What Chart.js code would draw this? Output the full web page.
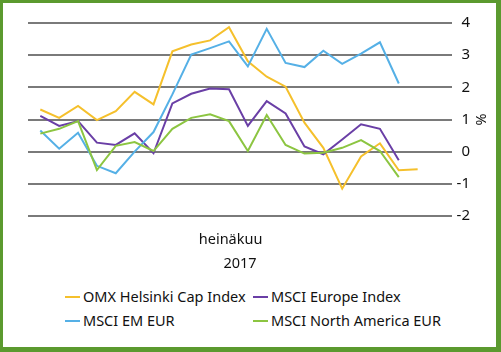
<!DOCTYPE html>
<html>
<head>
<meta charset="utf-8">
<script src="https://cdn.jsdelivr.net/npm/chart.js@4.4.1/dist/chart.umd.min.js"></script>
<style>
    body { margin: 0; background: #fff; font-family: "Noto Sans", sans-serif; }
    #wrap { position: absolute; left: 0; top: 0; width: 501px; height: 280px; }
    #frame {
        position: absolute; left: 0; top: 0; width: 501px; height: 352px;
        box-sizing: border-box; border: 3px solid #5b9a2f;
        border-right-width: 5px; border-bottom-width: 5px;
        pointer-events: none;
    }
    .legend-item { position: absolute; font-size: 14.5px; color: #111; line-height: 20px; white-space: nowrap; }
    .legend-item span.mark { display: inline-block; width: 15px; height: 2px; margin-right: 3px; vertical-align: middle; position: relative; top: -1px; }
</style>
</head>
<body>
<div id="wrap"><canvas id="chart"></canvas></div>
<div id="legend"></div>
<div id="frame"></div>
<script>
// Trading days, July 2017
const days = [3, 4, 5, 6, 7, 10, 11, 12, 13, 14, 17, 18, 19, 20, 21, 24, 25, 26, 27, 28, 31];

// Cumulative change, %
const omxHelsinki = [1.31, 1.05, 1.42, 0.98, 1.26, 1.86, 1.47, 3.12, 3.33, 3.46, 3.87, 2.81, 2.33, 2.02, 0.90, 0.12, -1.15, -0.15, 0.26, -0.58, -0.55];
const msciEurope = [1.11, 0.80, 0.95, 0.28, 0.21, 0.57, -0.05, 1.50, 1.80, 1.96, 1.94, 0.80, 1.57, 1.19, 0.16, -0.08, 0.38, 0.85, 0.71, -0.27, null];
const msciEm = [0.66, 0.09, 0.59, -0.44, -0.67, 0.0, 0.61, 1.78, 3.02, 3.22, 3.43, 2.65, 3.82, 2.76, 2.63, 3.14, 2.73, 3.05, 3.40, 2.12, null];
const msciNorthAmerica = [0.56, 0.71, 0.95, -0.57, 0.18, 0.30, 0.02, 0.71, 1.05, 1.16, 0.95, 0.02, 1.14, 0.21, -0.06, -0.03, 0.12, 0.36, 0.02, -0.79, null];

const yTicks = [4, 3, 2, 1, 0, -1, -2];

const seriesNames = ['OMX Helsinki Cap Index', 'MSCI Europe Index', 'MSCI EM EUR', 'MSCI North America EUR'];
const seriesColors = ['#f5c02c', '#6a3fa6', '#55b0e6', '#8cc541'];
const seriesValues = [omxHelsinki, msciEurope, msciEm, msciNorthAmerica];

function toPoints(values) {
    return values.map((v, i) => ({ x: i, y: v }));
}

const datasets = seriesValues.map((values, i) => ({
    label: seriesNames[i],
    data: toPoints(values),
    borderColor: seriesColors[i],
    backgroundColor: seriesColors[i],
    borderWidth: 2,
    pointRadius: 0,
    tension: 0,
    order: 3 - i
}));

const ctx = document.getElementById('chart').getContext('2d');
new Chart(ctx, {
    type: 'line',
    data: { datasets: datasets },
    options: {
        responsive: true,
        maintainAspectRatio: false,
        animation: false,
        layout: { padding: { left: 28, top: 23, right: 31, bottom: 0 } },
        font: { family: '"Noto Sans", sans-serif', size: 14 },
        scales: {
            x: {
                type: 'linear',
                min: -0.652,
                max: 21.82,
                grid: { display: false, drawTicks: false },
                border: { display: false },
                ticks: { display: false },
                title: {
                    display: true,
                    text: ['heinäkuu\u00a0\u00a0\u00a0\u00a0\u00a0', '2017'],
                    color: '#111',
                    font: { size: 14.5, lineHeight: 24 / 14.5 },
                    padding: { top: 12, bottom: 4 }
                }
            },
            y: {
                position: 'right',
                min: -2,
                max: 4,
                afterBuildTicks: function(scale) {
                    scale.ticks = yTicks.map(v => ({ value: v }));
                },
                afterFit: function(scale) {
                    // tick labels end at x=470, "%" sits in the right padding
                    scale.width = 18;
                },
                grid: { color: '#7a7a7a', lineWidth: 2, drawTicks: false },
                border: { display: false },
                ticks: {
                    padding: 5,
                    crossAlign: 'far',
                    color: '#111',
                    font: { size: 15 }
                },
                title: {
                    display: true,
                    text: '%',
                    color: '#111',
                    font: { size: 14.5 },
                    padding: { top: -19, bottom: 0 }
                }
            }
        },
        plugins: {
            legend: { display: false },
            tooltip: { enabled: false }
        }
    }
});

// Two-column legend like the original
const legendPos = [
    { left: 65, top: 286 },
    { left: 253, top: 286 },
    { left: 65, top: 310 },
    { left: 253, top: 310 }
];
const legend = document.getElementById('legend');
seriesNames.forEach((name, i) => {
    const item = document.createElement('div');
    item.className = 'legend-item';
    item.style.left = legendPos[i].left + 'px';
    item.style.top = legendPos[i].top + 'px';
    item.innerHTML = '<span class="mark" style="background:' + seriesColors[i] + '"></span>' + name;
    legend.appendChild(item);
});
</script>
</body>
</html>
